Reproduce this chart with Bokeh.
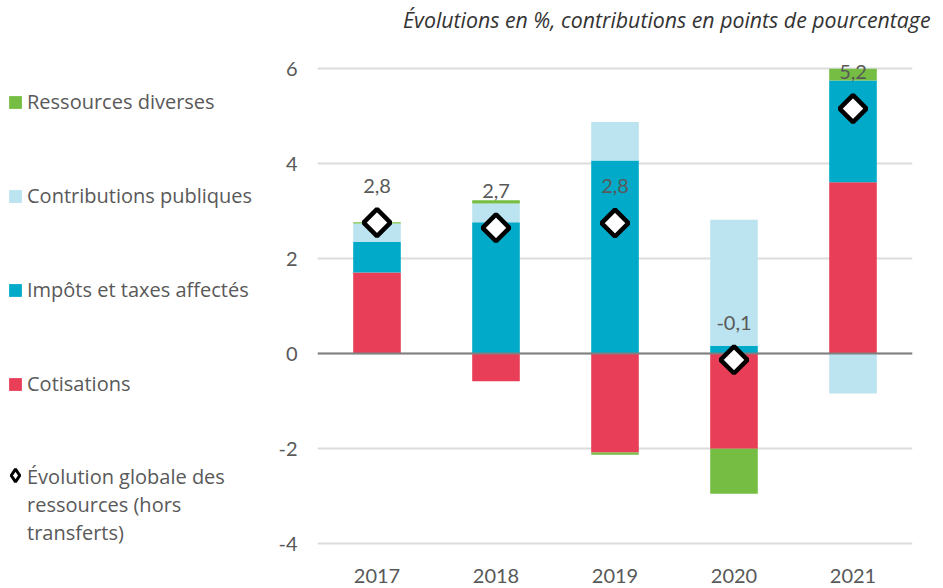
import numpy as np
from bokeh.plotting import figure
from bokeh.layouts import row
from bokeh.models import (ColumnDataSource, FactorRange, Range1d, FixedTicker,
                          Legend, LegendItem, Title)
from bokeh.core.properties import value
from bokeh.embed import file_html
from bokeh.resources import INLINE

# ---- data ----
years = ["2017", "2018", "2019", "2020", "2021"]
cotisations = [1.71, -0.58, -2.08, -2.00, 3.61]
impots = [0.64, 2.77, 4.07, 0.16, 2.14]
contributions = [0.39, 0.39, 0.81, 2.66, -0.84]
diverses = [0.03, 0.07, -0.05, -0.95, 0.25]
evolution = [2.76, 2.65, 2.75, -0.13, 5.16]
evolution_labels = ["2,8", "2,7", "2,8", "-0,1", "5,2"]
y_ticks = [-4, -2, 0, 2, 4, 6]
y_tick_labels = ["-4", "-2", "0", "2", "4", "6"]

series_names = ["Cotisations", "Impôts et taxes affectés",
                "Contributions publiques", "Ressources diverses"]
series_values = [cotisations, impots, contributions, diverses]
series_colors = ["#E83E57", "#00AAC8", "#BCE4F0", "#76BE43"]
total_lines = ["Évolution globale des", "ressources (hors", "transferts)"]

FONT = "Lato"
LFONT = "Open Sans"
TXT = "#595959"

# ---------------- chart ----------------
p = figure(width=673, height=588, x_range=FactorRange(*years),
           y_range=Range1d(-4.25, 6.3), output_backend="svg",
           toolbar_location=None, title=None,
           min_border_left=47, min_border_right=31,
           min_border_top=54, min_border_bottom=33)
p.outline_line_color = None
p.xgrid.grid_line_color = None
p.ygrid.grid_line_color = "#dcdcdc"
p.ygrid.grid_line_width = 2

pos = np.zeros(len(years))
neg = np.zeros(len(years))
for name, vals, col in zip(series_names, series_values, series_colors):
    v = np.array(vals, dtype=float)
    bottom = np.where(v >= 0, pos, neg)
    top = bottom + v
    pos = np.where(v >= 0, top, pos)
    neg = np.where(v < 0, top, neg)
    src = ColumnDataSource(dict(x=years, bottom=bottom, top=top))
    p.vbar(x="x", bottom="bottom", top="top", width=0.4,
           source=src, fill_color=col, line_color=None)

p.hspan(y=[0], line_color="#808080", line_width=2)

p.scatter(x=years, y=evolution, marker="square", angle=np.pi / 4, size=19,
          fill_color="white", line_color="black", line_width=4.5)

p.text(x=years, y=evolution, text=evolution_labels, y_offset=-37,
       text_align="center", text_baseline="middle", text_font=value(FONT),
       text_font_size="20px", text_color=TXT)

p.yaxis.ticker = FixedTicker(ticks=y_ticks)
p.yaxis.major_label_overrides = {t: s for t, s in zip(y_ticks, y_tick_labels)}
for ax in (p.xaxis[0], p.yaxis[0]):
    ax.axis_line_color = None
    ax.major_tick_line_color = None
    ax.minor_tick_line_color = None
    ax.major_tick_out = 0
    ax.major_tick_in = 0
    ax.major_label_text_font = FONT
    ax.major_label_text_font_size = "20px"
    ax.major_label_text_color = TXT
p.yaxis.major_label_standoff = 20
p.xaxis.major_label_standoff = 13

p.add_layout(Title(text=" ", text_font_size="10px", standoff=8), "above")
p.add_layout(Title(text="Évolutions en %, contributions en points de pourcentage",
                   align="right", offset=-18, standoff=0, text_font=LFONT,
                   text_font_style="italic", text_font_size="21.3px",
                   text_color="#333333"), "above")

# ---------------- legend panel ----------------
lg = figure(width=270, height=588, x_range=Range1d(0, 1), y_range=Range1d(0, 1),
            output_backend="svg", toolbar_location=None, title=None,
            x_axis_location=None, y_axis_location=None,
            min_border_left=0, min_border_right=0, min_border_top=0,
            min_border_bottom=0)
lg.outline_line_color = None
lg.xgrid.visible = False
lg.ygrid.visible = False

swatch = {}
for name, col in zip(series_names, series_colors):
    swatch[name] = lg.vbar(x=[np.nan], top=[np.nan], width=0.1,
                           fill_color=col, line_color=None)
leg_diamond = lg.scatter(x=[np.nan], y=[np.nan], marker="diamond",
                         fill_color="white", line_color="black", line_width=3)
leg_blank = lg.scatter(x=[np.nan], y=[np.nan], fill_alpha=0, line_alpha=0)

common = dict(padding=0, margin=0, border_line_color=None,
              background_fill_alpha=0, label_text_font=LFONT,
              label_text_font_size="20px", label_text_color=TXT)

legA = Legend(items=[LegendItem(label=n, renderers=[swatch[n]])
                     for n in reversed(series_names)],
              location=(7, 158), glyph_width=16, glyph_height=16, label_height=26,
              spacing=67, label_standoff=4, **common)
lg.add_layout(legA)

# diamond symbol of the last legend entry (its text is in legB)
legC = Legend(items=[LegendItem(label=" ", renderers=[leg_diamond])],
              location=(-1, 64), glyph_width=32, glyph_height=32, label_height=32,
              spacing=0, label_standoff=0, **common)
lg.add_layout(legC)

legB = Legend(items=[LegendItem(label=t, renderers=[leg_blank]) for t in total_lines],
              location=(7, 9), glyph_width=16, glyph_height=16, label_height=28,
              spacing=0, label_standoff=4, **common)
lg.add_layout(legB)

layout = row(lg, p)
open("out.html", "w").write(file_html(layout, INLINE))
